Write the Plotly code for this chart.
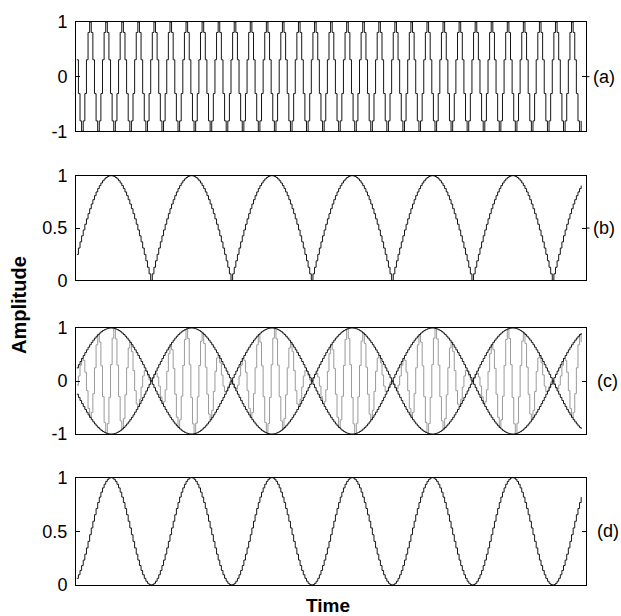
import numpy as np
import plotly.graph_objects as go
from plotly.subplots import make_subplots

# ---- values (sample units along the Time axis) ----
n_samples = [315]                 # number of samples drawn
carrier_period = [10]             # samples per carrier cycle (panel a)
carrier_peak_at = [8]             # first carrier maximum
message_period = [100]            # samples per message sine cycle
message_zero_at = [46]            # first message zero crossing
x_range = [-0.5, 317]

panel_labels = ["(a)", "(b)", "(c)", "(d)"]
y_ranges = [[-1, 1], [0, 1], [-1, 1], [0, 1]]
y_ticks = [[-1, 0, 1], [0, 0.5, 1], [-1, 0, 1], [0, 0.5, 1]]
y_ticktext = [["-1", "0", "1"], ["0", "0.5", "1"], ["-1", "0", "1"], ["0", "0.5", "1"]]
label_mid = [0, 0.5, 0, 0.5]

n = np.arange(n_samples[0])
carrier = np.cos(2 * np.pi * (n - carrier_peak_at[0]) / carrier_period[0])
message = np.sin(2 * np.pi * (n - message_zero_at[0]) / message_period[0])

sig_a = carrier
sig_b = np.abs(message)
sig_c = message * carrier
env_c_pos = message
env_c_neg = -message
sig_d = message ** 2

FONT = "Arial, Liberation Sans, sans-serif"
BLACK = "#151515"
GRAY = "#9a9a9a"

fig = make_subplots(rows=4, cols=1)

line_k = dict(color=BLACK, width=1, shape="hv")
fig.add_trace(go.Scatter(x=n, y=sig_a, mode="lines", line=line_k), row=1, col=1)
fig.add_trace(go.Scatter(x=n, y=sig_b, mode="lines", line=line_k), row=2, col=1)
fig.add_trace(go.Scatter(x=n, y=sig_c, mode="lines", line=dict(color=GRAY, width=1, shape="hv")), row=3, col=1)
fig.add_trace(go.Scatter(x=n, y=env_c_pos, mode="lines", line=line_k), row=3, col=1)
fig.add_trace(go.Scatter(x=n, y=env_c_neg, mode="lines", line=line_k), row=3, col=1)
fig.add_trace(go.Scatter(x=n, y=sig_d, mode="lines", line=line_k), row=4, col=1)

domains = [[0.8058, 1.0], [0.541, 0.7271], [0.2681, 0.4565], [0.0, 0.1907]]

for i in range(4):
    r = i + 1
    fig.update_xaxes(row=r, col=1, range=x_range, showline=True, mirror=True,
                     linecolor="black", linewidth=1, showgrid=False, zeroline=False,
                     showticklabels=False, ticks="")
    fig.update_yaxes(row=r, col=1, range=y_ranges[i], domain=domains[i],
                     tickvals=y_ticks[i], ticktext=y_ticktext[i],
                     showline=True, mirror="ticks", linecolor="black", linewidth=1,
                     ticks="inside", ticklen=4, tickcolor="black", tickwidth=1,
                     ticklabelstandoff=4,
                     showgrid=False, zeroline=False,
                     tickfont=dict(family=FONT, size=18, color="black"))

annotations = []
for i, lab in enumerate(panel_labels):
    yref = "y" if i == 0 else f"y{i+1}"
    xpos = 591 if i < 2 else 595
    annotations.append(dict(text=lab, xref="paper", yref=yref, x=(xpos - 76) / 510,
                            y=label_mid[i], xanchor="left", yanchor="middle",
                            showarrow=False, font=dict(family=FONT, size=18, color="black")))
annotations.append(dict(text="<b>Amplitude</b>", xref="paper", yref="paper",
                        x=(19.5 - 76) / 510, y=(585 - 303) / 568, textangle=-90,
                        xanchor="center", yanchor="middle", showarrow=False,
                        font=dict(family=FONT, size=20, color="black")))
annotations.append(dict(text="<b>Time</b>", xref="paper", yref="paper",
                        x=(328 - 76) / 510, y=(585 - 606) / 568,
                        xanchor="center", yanchor="middle", showarrow=False,
                        font=dict(family=FONT, size=19, color="black")))

shapes = []
for i in range(2):
    yref = "y" if i == 0 else f"y{i+1}"
    shapes.append(dict(type="line", xref="paper", yref=yref, x0=1.0, x1=(589.5 - 76) / 510,
                       y0=label_mid[i], y1=label_mid[i], line=dict(color="black", width=1)))

fig.update_layout(width=621, height=616, margin=dict(l=76, r=35, t=17, b=31),
                  paper_bgcolor="white", plot_bgcolor="white", showlegend=False,
                  hovermode=False,
                  annotations=annotations, shapes=shapes)

# remove the page's default body margin so the figure fills the window exactly
fig.write_html("out.html", config={"displayModeBar": False},
               post_script="document.body.style.margin='0';document.body.style.overflow='hidden';")
